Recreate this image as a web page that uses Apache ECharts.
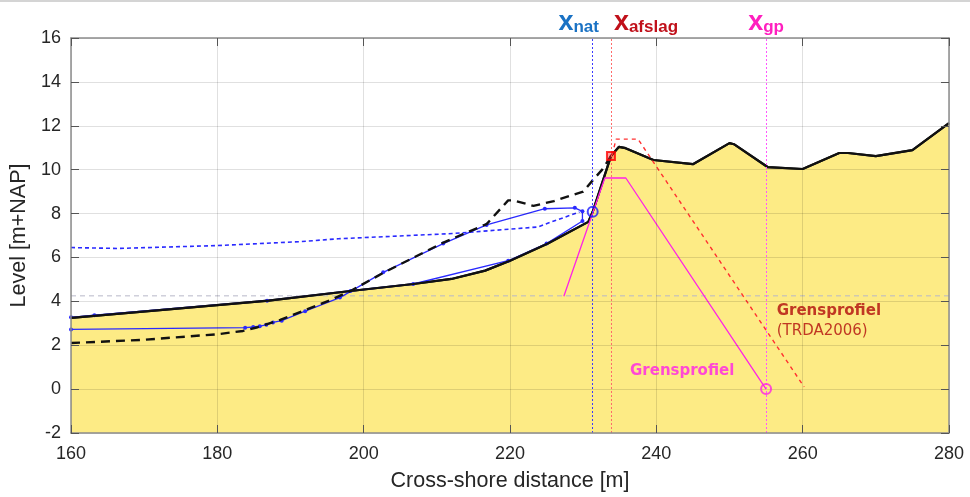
<!DOCTYPE html>
<html>
<head>
<meta charset="utf-8">
<script src="https://cdn.jsdelivr.net/npm/echarts@6/dist/echarts.min.js"></script>
<style>html,body{margin:0;padding:0;background:#fff;}#c{width:970px;height:497px;}</style>
</head>
<body>
<div id="c"></div>
<script>
// ---- data ----
const xTicks = [160, 180, 200, 220, 240, 260, 280];
const yTicks = [-2, 0, 2, 4, 6, 8, 10, 12, 14, 16];

// current profile (filled)
const profileX = [160, 187, 198.2, 206.8, 212, 216.6, 220, 225.1, 230.7, 231.3, 233.8, 234.9, 235.8, 239.6, 245, 250, 250.6, 255.2, 260, 265, 266.2, 270, 275, 280];
const profileY = [3.25, 4.03, 4.47, 4.79, 5.02, 5.4, 5.85, 6.62, 7.62, 8.08, 10.62, 11.04, 10.98, 10.44, 10.25, 11.21, 11.16, 10.12, 10.03, 10.76, 10.76, 10.62, 10.89, 12.12];

// initial profile (black dashed)
const initX = [160, 170, 180, 183.5, 185.5, 188.6, 195.4, 198.2, 202.7, 210.9, 216.8, 219.75, 220.5, 223.2, 226, 230, 231.4, 232.6, 233.8];
const initY = [2.1, 2.25, 2.5, 2.65, 2.82, 3.15, 4.05, 4.47, 5.3, 6.68, 7.52, 8.6, 8.6, 8.35, 8.57, 9.0, 9.55, 10.0, 10.62];

// blue solid loop
const loopX = [160, 183.8, 184.9, 185.8, 186.7, 187.6, 188.8, 192, 196.75, 202.67, 210.87, 216.8, 224.76, 228.86, 229.9, 229.9, 225.0, 219.75, 206.77, 198.2, 186.8, 163.2, 160];
const loopY = [2.72, 2.8, 2.83, 2.87, 2.93, 3.04, 3.12, 3.55, 4.17, 5.32, 6.63, 7.48, 8.22, 8.26, 8.1, 7.66, 6.63, 5.85, 4.79, 4.47, 4.03, 3.37, 3.27];

// blue dotted
const dotX = [160, 166.4, 179.9, 191.3, 196.5, 212.2, 223.85, 225.9, 229.5];
const dotY = [6.45, 6.41, 6.54, 6.72, 6.85, 7.09, 7.39, 7.65, 8.07];

// Grensprofiel (magenta)
const gpX = [227.36, 232.96, 235.83, 255.0];
const gpY = [4.23, 9.62, 9.62, 0];

// Grensprofiel TRDA2006 (red dashed)
const trdaX = [233.95, 234.5, 237.5, 260.2];
const trdaY = [10.67, 11.39, 11.39, 0.1];

const waterLevel = 4.25;
const xNat = 231.3, xAfslag = 233.8, xGp = 255.0;
const natPoint = [231.3, 8.08];
const afslagPoint = [233.8, 10.62];
const gpPoint = [255.0, 0];

const labelRedPos = [256.45, 3.1];
const labelGpPos = [236.4, 0.83];

// ---- build ----
const zip = (xs, ys) => xs.map((x, i) => [x, ys[i]]);
const C = {
  blue: '#2a2aff', mag: '#ff22e6', fill: '#fdeb85',
  natTxt: '#1a72c4', afsTxt: '#c0101a', gpTxt: '#ff1fbf'
};
const FONT = 'Liberation Sans';

const chart = echarts.init(document.getElementById('c'), null, { renderer: 'canvas' });
function richFor(col) {
  return {
    x: { fontFamily: FONT, fontSize: 27, fontWeight: 'bold', color: col, lineHeight: 24, verticalAlign: 'top' },
    s: { fontFamily: FONT, fontSize: 17, fontWeight: 'bold', color: col, lineHeight: 16, padding: [10, 0, 0, 0], verticalAlign: 'top' }
  };
}
function markV(x, lineColor, txtColor, sub, offset) {
  return {
    type: 'line', data: [], silent: true, z: 3,
    markLine: {
      symbol: 'none', silent: true, animation: false,
      lineStyle: { type: [2, 2], color: lineColor, width: 1 },
      label: {
        show: true, position: 'end', distance: 5, offset: offset,
        formatter: '{x|x}{s|' + sub + '}', rich: richFor(txtColor)
      },
      data: [{ xAxis: x }]
    }
  };
}

const axisCommon = {
  axisLine: { show: true, onZero: false, lineStyle: { color: '#8c8c8c', width: 1.5 } },
  axisTick: { show: true, inside: true, length: 8, lineStyle: { color: '#555', width: 1 } },
  splitLine: { show: false },
};

const option = {
  animation: false,
  backgroundColor: '#ffffff',
  grid: { left: 71, right: 21, top: 38, bottom: 62, containLabel: false },
  xAxis: [
    Object.assign({}, axisCommon, {
      type: 'value', min: 160, max: 280, interval: 20, z: 5,
      name: 'Cross-shore distance [m]', nameLocation: 'middle', nameGap: 37,
      nameTextStyle: { fontFamily: FONT, fontSize: 21.5, color: '#262626' },
      axisLabel: { fontFamily: FONT, fontSize: 18, color: '#262626', margin: 12 },
      splitLine: { show: true, lineStyle: { color: 'rgba(0,0,0,0.12)', width: 1 } }
    }),
    Object.assign({}, axisCommon, {
      type: 'value', min: 160, max: 280, interval: 20, position: 'top', z: 5,
      axisLabel: { show: false }
    })
  ],
  yAxis: [
    Object.assign({}, axisCommon, {
      type: 'value', min: -2, max: 16, interval: 2, z: 5,
      name: 'Level [m+NAP]', nameLocation: 'middle', nameGap: 33,
      nameTextStyle: { fontFamily: FONT, fontSize: 21.5, color: '#262626' },
      axisLabel: { fontFamily: FONT, fontSize: 18, color: '#262626', margin: 10 },
      splitLine: { show: true, lineStyle: { color: 'rgba(0,0,0,0.12)', width: 1 } }
    }),
    Object.assign({}, axisCommon, {
      type: 'value', min: -2, max: 16, interval: 2, position: 'right', z: 5,
      axisLabel: { show: false }
    })
  ],
  graphic: [{
    type: 'line', shape: { x1: 0, y1: 1, x2: 970, y2: 1 },
    style: { stroke: '#d4d4d4', lineWidth: 2 }
  }],
  series: [
    { // filled current profile
      type: 'line', data: zip(profileX, profileY), symbol: 'none', z: 1,
      lineStyle: { color: '#111', width: 2.2 },
      areaStyle: { color: C.fill, opacity: 1, origin: 'start' }
    },
    { // water level
      type: 'line', data: [[160, waterLevel], [280, waterLevel]], symbol: 'none', z: 2,
      lineStyle: { color: '#b8b8c8', width: 1, type: [5, 4] }
    },
    { // blue dotted
      type: 'line', data: zip(dotX, dotY), symbol: 'none', z: 3,
      lineStyle: { color: C.blue, width: 1.6, type: [4, 3] }
    },
    { // blue loop
      type: 'line', data: zip(loopX, loopY), symbol: 'circle', symbolSize: 4, z: 3,
      itemStyle: { color: C.blue }, lineStyle: { color: C.blue, width: 1.3 }
    },
    { // initial dashed
      type: 'line', data: zip(initX, initY), symbol: 'none', z: 4,
      lineStyle: { color: '#111', width: 2.4, type: [9, 6] }
    },
    { // profile line on top
      type: 'line', data: zip(profileX, profileY), symbol: 'none', z: 4,
      lineStyle: { color: '#111', width: 2.2 }
    },
    { // Grensprofiel magenta
      type: 'line', data: zip(gpX, gpY), symbol: 'none', z: 4,
      lineStyle: { color: C.mag, width: 1.3 }
    },
    { // TRDA red dashed
      type: 'line', data: zip(trdaX, trdaY), symbol: 'none', z: 4,
      lineStyle: { color: '#ff3030', width: 1.4, type: [4, 4] }
    },
    markV(xNat, '#3a3aff', C.natTxt, 'nat', [-14, 0]),
    markV(xAfslag, '#ff6a6a', C.afsTxt, 'afslag', [35, 0]),
    markV(xGp, '#ff55ff', C.gpTxt, 'gp', [0, 0]),
    { type: 'scatter', data: [natPoint], symbol: 'circle', symbolSize: 10, z: 6,
      itemStyle: { color: 'rgba(0,0,0,0)', borderColor: '#1a1aff', borderWidth: 2 } },
    { type: 'scatter', data: [afslagPoint], symbol: 'rect', symbolSize: 8, z: 6,
      itemStyle: { color: 'rgba(255,40,40,0.55)', borderColor: '#ff0000', borderWidth: 2 } },
    { type: 'scatter', data: [gpPoint], symbol: 'circle', symbolSize: 10, z: 6,
      itemStyle: { color: 'rgba(0,0,0,0)', borderColor: C.mag, borderWidth: 2 } },
    { type: 'scatter', data: [labelRedPos], symbolSize: 0, z: 7, silent: true,
      label: { show: true, position: 'right', distance: 0, align: 'left',
        formatter: '{b|Grensprofiel}\n{n|(TRDA2006)}',
        rich: {
          b: { fontFamily: 'DejaVu Sans', fontSize: 15, fontWeight: 'bold', color: '#b00a0a', lineHeight: 20 },
          n: { fontFamily: 'DejaVu Sans', fontSize: 15, color: '#b00a0a', lineHeight: 20 }
        } } },
    { type: 'scatter', data: [labelGpPos], symbolSize: 0, z: 7, silent: true,
      label: { show: true, position: 'right', distance: 0, align: 'left',
        formatter: 'Grensprofiel',
        fontFamily: 'DejaVu Sans', fontSize: 15, fontWeight: 'bold', color: '#ff1fe8' } }
  ]
};
chart.setOption(option);
</script>
</body>
</html>
